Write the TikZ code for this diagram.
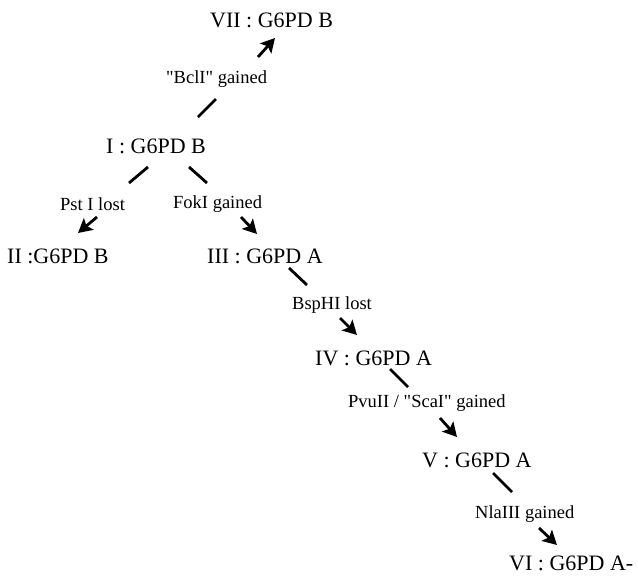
\documentclass[tikz,border=0pt]{standalone}
\usepackage{fontspec}
\setmainfont{Liberation Serif}[Ligatures=TeXOff]
\usetikzlibrary{arrows.meta}
\begin{document}
\begin{tikzpicture}[x=1pt,y=-1pt,
  variant/.style={anchor=base west,inner sep=0pt,font=\fontsize{22}{26}\selectfont},
  change/.style={anchor=base west,inner sep=0pt,font=\fontsize{18.5}{22}\selectfont},
  tail/.style={line width=2.8pt},
  head/.style={line width=2.8pt,-{Stealth[length=14pt,width=15pt,inset=3pt]}}]
\useasboundingbox (0,0) rectangle (638,576);

% haplotype variants
\node[variant] (n7) at (210,27)  {VII : G6PD B};
\node[variant] (n1) at (106,153) {I : G6PD B};
\node[variant] (n2) at (7,263)   {II :G6PD B};
\node[variant] (n3) at (207,263) {III : G6PD A};
\node[variant] (n4) at (315,365) {IV : G6PD A};
\node[variant] (n5) at (422,467) {V : G6PD A};
\node[variant] (n6) at (509,570) {VI : G6PD A-};

% restriction site changes
\node[change] (c17) at (166,83)  {"BclI" gained};
\node[change] (c12) at (60,210)  {Pst I lost};
\node[change] (c13) at (173,208) {FokI gained};
\node[change] (c34) at (292,309) {BspHI lost};
\node[change] (c45) at (348,407) {PvuII / "ScaI" gained};
\node[change] (c56) at (475,518) {NlaIII gained};

% connector end points: a short tail below each parent, an arrow above each child
\coordinate (t17a) at (198,117); \coordinate (t17b) at (216,99);
\coordinate (a17a) at (258,57);  \coordinate (a17b) at (275,38);
\coordinate (t12a) at (148,167); \coordinate (t12b) at (129,183);
\coordinate (a12a) at (97,217);  \coordinate (a12b) at (78,233);
\coordinate (t13a) at (189,167); \coordinate (t13b) at (207,183);
\coordinate (a13a) at (241,217); \coordinate (a13b) at (257,234);
\coordinate (t34a) at (289,268); \coordinate (t34b) at (307,285);
\coordinate (a34a) at (340,318); \coordinate (a34b) at (357,335);
\coordinate (t45a) at (390,369); \coordinate (t45b) at (408,387);
\coordinate (a45a) at (440,418); \coordinate (a45b) at (457,437);
\coordinate (t56a) at (493,473); \coordinate (t56b) at (512,492);
\coordinate (a56a) at (539,528); \coordinate (a56b) at (557,545);

\foreach \e in {17,12,13,34,45,56}{
  \draw[tail] (t\e a) -- (t\e b);
  \draw[head] (a\e a) -- (a\e b);
}
\end{tikzpicture}
\end{document}
